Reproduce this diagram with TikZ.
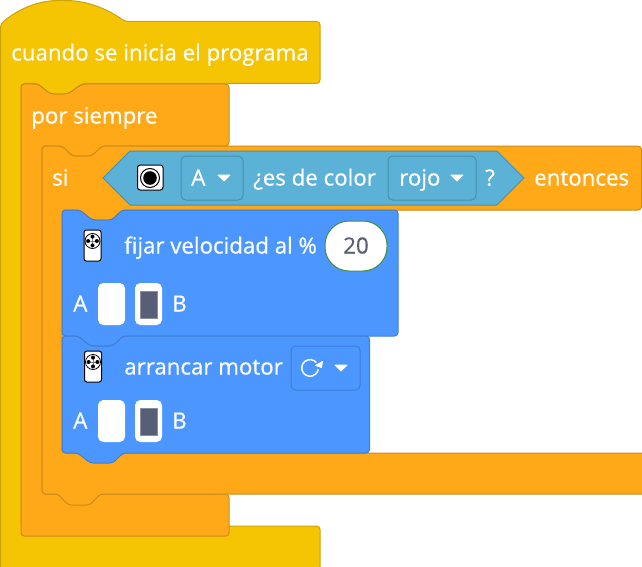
\documentclass[tikz,border=0pt]{standalone}
\usepackage{fontspec}
\newfontfamily\blockfont{Open Sans}[FakeBold=0.6]
\usetikzlibrary{positioning}
\definecolor{hatyellow}{HTML}{F5C402}
\definecolor{hatedge}{HTML}{CCA30A}
\definecolor{ctrlorange}{HTML}{FFA918}
\definecolor{ctrledge}{HTML}{CC8B1C}
\definecolor{motorblue}{HTML}{4C97FF}
\definecolor{motoredge}{HTML}{3F7ECF}
\definecolor{sensorteal}{HTML}{5CB1D6}
\definecolor{sensoredge}{HTML}{478FAE}
\definecolor{valuegray}{HTML}{575E75}
\definecolor{valuegreen}{HTML}{3F8F3F}
\tikzset{
  blockpath/.style={line width=0.75pt,rounded corners=2.6pt},
  hatblock/.style={blockpath,fill=hatyellow,draw=hatedge},
  ctrlblock/.style={blockpath,fill=ctrlorange,draw=ctrledge},
  motorblock/.style={blockpath,fill=motorblue,draw=motoredge},
  lbl/.style={text=white,font=\blockfont\fontsize{16.7pt}{18pt}\selectfont,anchor=base west,inner sep=0pt},
  menubox/.style={line width=0.75pt,rounded corners=3.5pt},
  menutri/.style={fill=white,draw=white,line width=0.6pt,line join=round},
  portbox/.style={fill=white,rounded corners=4pt},
  portbar/.style={fill=valuegray,draw=valuegray!70!white,line width=0.4pt},
  motoricon/.pic={
    \draw [fill=white,draw=black,line width=0.75pt,rounded corners=1.8pt] (-8.5,-11) rectangle (8.5,20);
    \draw [fill=white,draw=black,line width=0.6pt] (0,0) circle (7.5);
    \draw [gray,line width=0.4pt] (-5,0)--(5,0) (0,-5)--(0,5);
    \foreach \a in {0,90,180,270} \fill (\a:4.4) circle (2);
  },
  portpair/.pic={
    \fill [portbox] (-16,-21) rectangle (11,21);
    \fill [portbox] (21,-21) rectangle (48,21);
    \draw [portbar] (26,-13) rectangle (43,14);
  }
}
\begin{document}
\begin{tikzpicture}[x=0.75pt,y=-0.75pt]
	\useasboundingbox (0,0) rectangle (642,567);

	% hat
	\draw [hatblock] (0.5,24) .. controls (22,6) and (42,0.5) .. (62,0.5) .. controls (86,0.5) and (106,8) .. (125,21.5)
		[sharp corners] -- (300,21.5) [rounded corners=2.6pt] -- (320,21.5) -- (320,83.5) -- (82,83.5) -- (68,94) -- (50,94) -- (38,83.5) -- (21,83.5)
		-- (21,526) -- (320,526) -- (320,570) -- (0.5,570) -- cycle;

	% forever
	\draw [ctrlblock] (21,84) -- (38,84) -- (50,94) -- (68,94) -- (82,84) -- (229,84) -- (229,146) -- (102,146) -- (92,156) -- (72,156) -- (62,146) -- (42,146)
		-- (42,494) -- (229,494) -- (229,536) -- (21,536) -- cycle;

	% if
	\draw [ctrlblock] (42,146) -- (62,146) -- (72,156) -- (92,156) -- (102,146) -- (641.5,146) -- (641.5,210) -- (122,210) -- (112,220) -- (92,220) -- (80,210) -- (62,210)
		-- (62,453) -- (660,453) -- (660,494) -- (100,494) -- (90,505) -- (68,505) -- (58,494) -- (42,494) -- cycle;

	% set speed
	\draw [motorblock] (62,210) -- (80,210) -- (92,220) -- (112,220) -- (122,210) -- (398,210) -- (398,336) -- (123,336) -- (113,346) -- (90,346) -- (78,336) -- (62,336) -- cycle;

	% start motor
	\draw [motorblock] (62,336) -- (78,336) -- (90,346) -- (113,346) -- (123,336) -- (369.5,336) -- (369.5,453) -- (123,453) -- (113,463) -- (90,463) -- (78,453) -- (62,453) -- cycle;

	% sensor
	\draw [fill=sensorteal,draw=sensoredge,line width=0.75pt] (103,178) -- (130,151) -- (497,151) -- (524,178) -- (497,205) -- (130,205) -- cycle;
	\draw [fill=white,draw=black,line width=0.75pt,rounded corners=2pt] (137.5,165) rectangle (163,190);
	\draw [draw=black,line width=0.75pt] (150,178) circle (9.5);
	\fill (150,178) circle (6.8);

	\draw [menubox,draw=sensoredge] (181,156) rectangle (243,200);
	\draw [menubox,draw=sensoredge] (388,156) rectangle (476,200);
	\draw [menutri] (218,175) -- (230,175) -- (224,181) -- cycle;
	\draw [menutri] (451,175) -- (463,175) -- (457,181) -- cycle;

	\node [lbl] (start) at (11,60.5) {cuando se inicia el programa};
	\node [lbl] (forever) at (31,123.5) {por siempre};
	\node [lbl] (ifword) at (52,185.5) {si};
	\node [lbl] (portA) at (191,185.5) {A};
	\node [lbl] (isword) at (253,185.5) {¿es de color};
	\node [lbl] (red) at (399,185.5) {rojo};
	\node [lbl] (ask) at (485,185.5) {?};
	\node [lbl] (then) at (534,185.5) {entonces};

	% first motor block
	\pic at (92.5,241) {motoricon};
	\node [lbl] (speed) at (124,253.5) {fijar velocidad al \%};
	\draw [fill=white,draw=valuegreen,line width=0.75pt,rounded corners=18pt] (325,221) rectangle (387,271);
	\node [lbl,text=valuegray,anchor=base] (speedval) at (356,253.5) {20};
	\node [lbl] (a1) at (73,311.5) {A};
	\pic at (114,304) {portpair};
	\node [lbl] (b1) at (172,311.5) {B};

	% second motor block
	\pic at (93,362) {motoricon};
	\node [lbl] (motor) at (124,374.5) {arrancar motor};
	\draw [menubox,draw=motoredge] (291,346) rectangle (360,390);
	\draw [white,line width=1.1pt] (316.4,362.6) arc (-40:-350:8.3);
	\draw [menutri] (322.5,361.5) -- (321.5,367.5) -- (315.5,365.5) -- cycle;
	\draw [menutri] (335,365) -- (347,365) -- (341,371) -- cycle;
	\node [lbl] (a2) at (73,428.5) {A};
	\pic at (114,421) {portpair};
	\node [lbl] (b2) at (172,428.5) {B};
\end{tikzpicture}
\end{document}
